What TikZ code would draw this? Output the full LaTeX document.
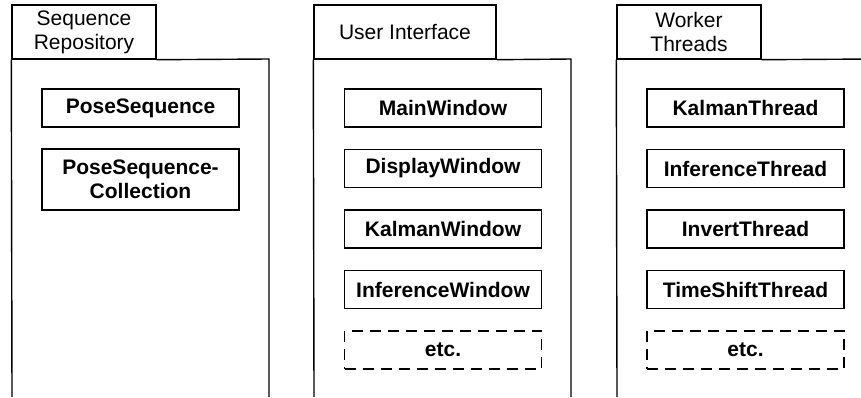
\documentclass[tikz,border=0pt]{standalone}
\usepackage{fontspec}
\setmainfont{Liberation Sans}
\begin{document}
\begin{tikzpicture}[x=1pt,y=-1pt,
  line width=1.4pt,
  every node/.style={font=\fontsize{21}{24}\selectfont, inner sep=0pt},
  tabbox/.style={draw, rectangle, align=center, minimum height=54pt},
  classbox/.style={draw, rectangle, align=center, font=\fontsize{21}{24}\selectfont\bfseries,
                   minimum width=197pt, minimum height=38pt},
  morebox/.style={classbox, dash pattern=on 11pt off 7pt}]
  % page
  \fill[white] (0,0) rectangle (861,397);
  \useasboundingbox (0,0) rectangle (861,397);

  % package: Sequence Repository
  \node[tabbox, minimum width=144pt] (tabA) at (84,32) {Sequence\\Repository};
  \coordinate (bodyAtr) at (269,59);
  \coordinate (bodyAbl) at (12,397);
  \coordinate (bodyAbr) at (269,397);
  \draw (tabA.south west) -- (bodyAbl);
  \draw (tabA.south east) -- (bodyAtr) -- (bodyAbr);
  \node[classbox] (ps)  at (140.5,108)   {PoseSequence};
  \node[classbox, minimum height=61pt] (psc) at (140.5,179.5) {PoseSequence-\\Collection};

  % package: User Interface
  \node[tabbox, minimum width=182pt] (tabB) at (405,32) {User Interface};
  \coordinate (bodyBtr) at (571,59);
  \coordinate (bodyBbl) at (314,397);
  \coordinate (bodyBbr) at (571,397);
  \draw (tabB.south west) -- (bodyBbl);
  \draw (tabB.south east) -- (bodyBtr) -- (bodyBbr);
  \node[classbox] (mw)  at (443,108)   {MainWindow};
  \node[classbox] (dw)  at (443,168.5) {DisplayWindow};
  \node[classbox] (kw)  at (443,229)   {KalmanWindow};
  \node[classbox] (iw)  at (443,289.5) {InferenceWindow};
  \node[morebox]  (uie) at (443,350)   {etc.};

  % package: Worker Threads (runs past the right edge)
  \node[tabbox, minimum width=144pt] (tabC) at (689,32) {Worker\\Threads};
  \coordinate (bodyCtr) at (874,59);
  \coordinate (bodyCbl) at (617,397);
  \draw (tabC.south west) -- (bodyCbl);
  \draw (tabC.south east) -- (bodyCtr);
  \node[classbox] (kt)  at (745.5,108)   {KalmanThread};
  \node[classbox] (it)  at (745.5,168.5) {InferenceThread};
  \node[classbox] (vt)  at (745.5,229)   {InvertThread};
  \node[classbox] (tt)  at (745.5,289.5) {TimeShiftThread};
  \node[morebox]  (wte) at (745.5,350)   {etc.};
\end{tikzpicture}
\end{document}
